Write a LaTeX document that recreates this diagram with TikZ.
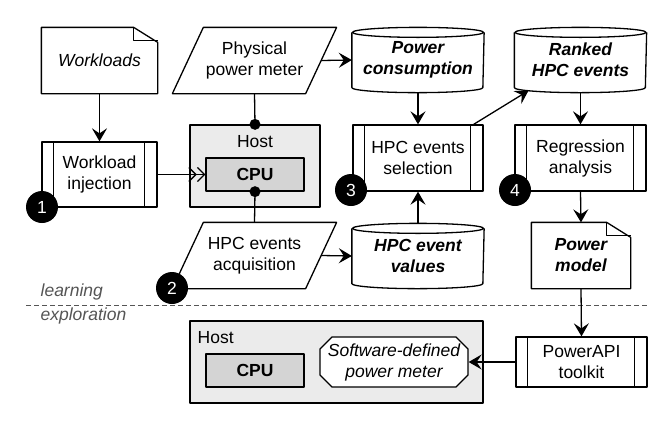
\documentclass[tikz,border=0pt]{standalone}
\usepackage{fontspec}
\setmainfont{Liberation Sans}
\usetikzlibrary{shapes.misc,arrows.meta}
\definecolor{hostgray}{HTML}{EBEBEB}
\definecolor{cpugray}{HTML}{D4D4D4}
\definecolor{notegray}{HTML}{555555}
\newcommand{\basefont}{\fontsize{17.5}{21}\selectfont}
\tikzset{base/.style={inner sep=0pt, align=center, font=\basefont},
%process box with a bar on each side
proc/.style={base, draw, minimum width=#1,
  append after command={\pgfextra{
    \draw ([xshift=12pt]\tikzlastnode.north west) -- ([xshift=12pt]\tikzlastnode.south west);
    \draw ([xshift=-13pt]\tikzlastnode.north east) -- ([xshift=-13pt]\tikzlastnode.south east);}}},
iobox/.style={base, minimum width=163pt, minimum height=65pt,
  append after command={\pgfextra{
    \draw ([xshift=31pt]\tikzlastnode.north west) -- (\tikzlastnode.north east)
      -- ([xshift=-31pt]\tikzlastnode.south east) -- (\tikzlastnode.south west) -- cycle;}}},
dbase/.style={base, font=\basefont\bfseries\itshape, minimum width=131pt, minimum height=64pt,
  append after command={\pgfextra{
    \draw ([yshift=-5pt]\tikzlastnode.north west) -- ([yshift=5pt]\tikzlastnode.south west)
      arc[start angle=180, end angle=360, x radius=65.5pt, y radius=5pt]
      -- ([yshift=-5pt]\tikzlastnode.north east);
    \draw ([yshift=-5pt]\tikzlastnode.north) ellipse [x radius=65.5pt, y radius=5pt];}}},
doc/.style={base, minimum width=#1, minimum height=65pt,
  append after command={\pgfextra{
    \draw (\tikzlastnode.north west) -- ([xshift=-24pt]\tikzlastnode.north east)
      -- ([yshift=-15pt]\tikzlastnode.north east) -- (\tikzlastnode.south east)
      -- (\tikzlastnode.south west) -- cycle;
    \draw ([xshift=-24pt]\tikzlastnode.north east) |- ([yshift=-13pt]\tikzlastnode.north east);}}},
hostbox/.style={draw, fill=hostgray, inner sep=0pt},
cpubox/.style={base, draw, fill=cpugray, font=\basefont\bfseries, minimum width=98pt, minimum height=33pt},
badge/.style={circle, fill=black, text=white, minimum size=32pt, inner sep=0pt, font=\basefont},
arr/.style={-{Stealth[length=13pt, width=15pt, inset=5pt]}},
dblarr/.style={-{Straight Barb[length=7pt, width=14pt] Straight Barb[length=7pt, width=14pt]}},
note/.style={base, anchor=west, font=\basefont\itshape, text=notegray}}

\begin{document}
\begin{tikzpicture}[x=1pt, y=-1pt, line width=1.3pt, line join=round]
\useasboundingbox (0,0) rectangle (670,437);

\coordinate (c1) at (42,207);
\coordinate (c2) at (172,288);
\coordinate (c3) at (351,190);
\coordinate (c4) at (515,190);

\coordinate (dl) at (26,305);
\coordinate (dr) at (647,305);

% learning phase
\node[doc=115pt, font=\basefont\itshape] (wl) at (99.5,60.5) {Workloads};
\node[iobox] (phys) at (254.5,60.5) {Physical\\power meter};
\node[dbase] (pcons) at (418,60) {Power\\consumption};
\node[dbase] (ranked) at (580.5,60) {Ranked\\HPC events};

\node[proc=115pt, minimum height=65pt] (inj) at (99.5,174.5) {Workload\\injection};
\node[hostbox, minimum width=130pt, minimum height=82pt] (host) at (255,166) {};
\node[base] (hostlbl) at (255,142) {Host};
\node[cpubox] (cpu) at (255,174.5) {CPU};
\node[proc=130pt, minimum height=66pt] (sel) at (418,158) {HPC events\\selection};
\node[proc=131pt, minimum height=66pt] (reg) at (580.5,158) {Regression\\analysis};

\node[iobox] (acq) at (254.5,255.5) {HPC events\\acquisition};
\node[dbase] (vals) at (418,256) {HPC event\\values};
\node[doc=98pt, font=\basefont\bfseries\itshape] (pmodel) at (581,255.5) {Power\\model};

\draw[arr] (wl) -- (inj);
\draw[dblarr] (inj.east) -- (cpu.west);
\draw (phys.south) -- (host.north);
\draw (cpu.south) -- (acq.north);
\fill (host.north) circle (5.5pt);
\fill (cpu.south) circle (5.5pt);
\draw[arr] ([xshift=-15.5pt]phys.east) -- (pcons.west);
\draw[arr] ([xshift=-15.5pt]acq.east) -- (vals.west);
\draw[arr] (pcons.south) -- (sel.north);
\draw[arr] (vals.north) -- (sel.south);
\draw[arr] ([xshift=-10pt]sel.north east) -- ([xshift=-52pt,yshift=2pt]ranked.south);
\draw[arr] (ranked.south) -- (reg.north);
\draw[arr] (reg.south) -- (pmodel.north);

\foreach \i in {1,2,3,4}
    \node[badge] (b\i) at (c\i) {\i};

% phases
\draw[dashed, dash pattern=on 5pt off 3pt, line width=1pt, notegray] (dl) -- (dr);
\node[note] (learn) at (40,292) {learning};
\node[note] (explore) at (40,316) {exploration};

% exploration phase
\node[hostbox, minimum width=293pt, minimum height=82pt] (host2) at (336.5,362) {};
\node[base, anchor=west] (hostlbl2) at (197,338) {Host};
\node[cpubox] (cpu2) at (255,370.5) {CPU};
\node[base, draw, fill=white, chamfered rectangle, chamfered rectangle xsep=6pt,
      chamfered rectangle ysep=6pt, minimum width=148pt, minimum height=50pt,
      font=\basefont\itshape] (sdpm) at (394,362) {Software-defined\\power meter};
\node[proc=131pt, minimum height=50pt] (api) at (581.5,362) {PowerAPI\\toolkit};

\draw[arr] (pmodel.south) -- (api.north);
\draw[arr] (api.west) -- (sdpm.east);

\end{tikzpicture}
\end{document}
